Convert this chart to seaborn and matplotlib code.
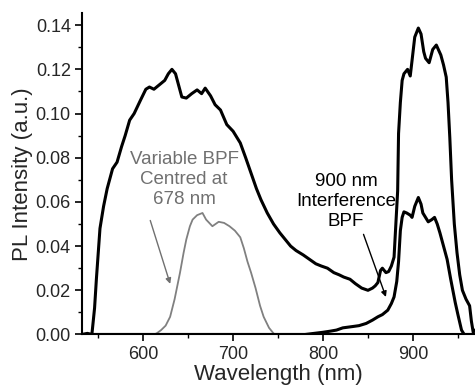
import numpy as np
import pandas as pd
import seaborn as sns
import matplotlib.pyplot as plt
from matplotlib.ticker import MultipleLocator

# PL through the long-pass filter (broad emission + 900 nm band)
wl_broad = [532, 538, 543, 546, 548, 552, 556, 560, 566, 571, 576, 580, 585, 590, 597,
            603, 607, 612, 618, 624, 628, 632, 636, 640, 643, 648, 654, 660, 665, 669,
            675, 680, 686, 693, 700, 708, 714, 720, 726, 731, 738, 745, 752, 758, 764,
            770, 778, 785, 792, 798, 805, 812, 818, 823, 830, 836, 843, 850, 855, 858,
            861, 864, 866, 870, 873, 876, 879, 881, 883, 884, 886, 888, 890, 894, 897,
            899, 902, 906, 909, 912, 914, 918, 922, 926, 931, 934, 937, 939, 941, 943,
            946, 949, 952, 955, 959, 963, 965, 967, 969]
pl_broad = [0.0, 0.0005, 0.0, 0.012, 0.025, 0.048, 0.058, 0.066, 0.075, 0.078, 0.085,
            0.090, 0.097, 0.100, 0.106, 0.111, 0.112, 0.111, 0.113, 0.115, 0.118, 0.120,
            0.118, 0.112, 0.1075, 0.107, 0.109, 0.1107, 0.109, 0.1115, 0.108, 0.104,
            0.1016, 0.095, 0.092, 0.0867, 0.080, 0.073, 0.066, 0.061, 0.055, 0.050,
            0.046, 0.043, 0.040, 0.038, 0.036, 0.034, 0.032, 0.031, 0.030, 0.028, 0.027,
            0.026, 0.025, 0.023, 0.021, 0.020, 0.021, 0.022, 0.0235, 0.029, 0.030, 0.028,
            0.0285, 0.031, 0.035, 0.050, 0.065, 0.091, 0.105, 0.115, 0.118, 0.120, 0.117,
            0.124, 0.1346, 0.1387, 0.136, 0.128, 0.125, 0.123, 0.129, 0.131, 0.1265,
            0.122, 0.1165, 0.105, 0.089, 0.070, 0.050, 0.037, 0.027, 0.020, 0.016, 0.013,
            0.006, 0.001, 0.002]

# PL through the 900 nm interference BPF
wl_900 = [532, 600, 700, 780, 790, 800, 808, 815, 822, 833, 840, 848, 855, 861, 866,
          872, 876, 879, 882, 884, 886, 888, 890, 893, 897, 899, 902, 906, 909, 911,
          914, 917, 921, 924, 927, 930, 934, 938, 942, 947, 950, 954, 957, 969]
pl_900 = [0.0, 0.0, 0.0, 0.0, 0.0005, 0.001, 0.0015, 0.002, 0.003, 0.0036, 0.004, 0.005,
          0.0065, 0.008, 0.009, 0.011, 0.014, 0.017, 0.024, 0.033, 0.047, 0.053, 0.0555,
          0.055, 0.054, 0.053, 0.058, 0.062, 0.059, 0.055, 0.053, 0.051, 0.052, 0.053,
          0.050, 0.046, 0.040, 0.034, 0.025, 0.0145, 0.009, 0.002, 0.0, 0.0]

# PL through the variable BPF centred at 678 nm
wl_var = [532, 612, 615, 620, 625, 630, 635, 641, 645, 648, 652, 655, 660, 666, 670,
          677, 684, 690, 696, 702, 708, 712, 716, 720, 725, 730, 734, 740, 746, 969]
pl_var = [0.0, 0.0, 0.0005, 0.002, 0.004, 0.008, 0.016, 0.028, 0.037, 0.043, 0.049,
          0.052, 0.054, 0.055, 0.052, 0.049, 0.051, 0.0505, 0.049, 0.047, 0.044, 0.039,
          0.033, 0.028, 0.021, 0.013, 0.008, 0.003, 0.0, 0.0]

sns.set_style("ticks")
plt.rcParams['font.family'] = ['Liberation Sans', 'DejaVu Sans']

fig = plt.figure(figsize=(4.75, 3.85), dpi=100)
ax = fig.add_axes([0.1726, 0.1312, 0.8274, 0.835])

sns.lineplot(x=wl_var, y=pl_var, ax=ax, color='#808080', lw=1.3, estimator=None)
sns.lineplot(x=wl_900, y=pl_900, ax=ax, color='black', lw=2.2, estimator=None)
sns.lineplot(x=wl_broad, y=pl_broad, ax=ax, color='black', lw=2.2, estimator=None)

ax.set_xlim(532, 969)
ax.set_ylim(0, 0.1455)
ax.xaxis.set_major_locator(MultipleLocator(100))
ax.xaxis.set_minor_locator(MultipleLocator(50))
ax.yaxis.set_major_locator(MultipleLocator(0.02))
ax.yaxis.set_minor_locator(MultipleLocator(0.01))
ax.set_yticks(np.arange(0, 0.141, 0.02))
ax.set_yticklabels([f'{v:.2f}' for v in np.arange(0, 0.141, 0.02)])
ax.tick_params(which='major', direction='out', length=5, width=1.2, labelsize=13,
               color='black', pad=3)
ax.tick_params(which='minor', direction='out', length=3, width=1.0, color='black')
sns.despine(ax=ax)
for s in ['left', 'bottom']:
    ax.spines[s].set_linewidth(1.5)
    ax.spines[s].set_color('black')

ax.set_xlabel('Wavelength (nm)', fontsize=16, labelpad=1)
ax.set_ylabel('PL Intensity (a.u.)', fontsize=16, labelpad=2)

ax.text(645.6, 0.0702, 'Variable BPF\nCentred at\n678 nm', color='#707070',
        fontsize=13.5, ha='center', va='center', linespacing=1.25)
ax.annotate('', xy=(631, 0.0217), xytext=(607, 0.0528),
            arrowprops=dict(arrowstyle='-|>', color='#707070', lw=1.0, mutation_scale=8))

ax.text(825.6, 0.0603, '900 nm\nInterference\nBPF', color='black',
        fontsize=13.5, ha='center', va='center', linespacing=1.25)
ax.annotate('', xy=(871, 0.0158), xytext=(844, 0.0465),
            arrowprops=dict(arrowstyle='-|>', color='black', lw=1.0, mutation_scale=8))

plt.savefig('out.png', dpi=100)
